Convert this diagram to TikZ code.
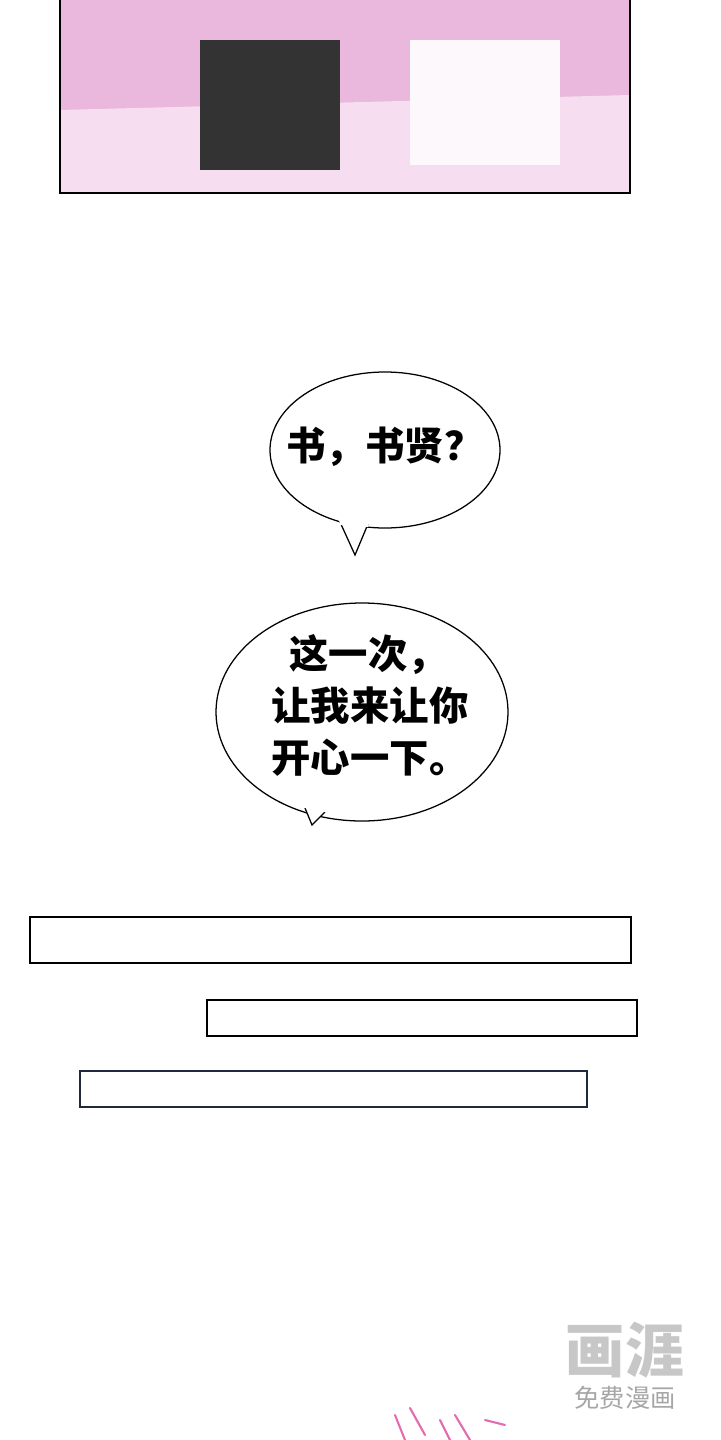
\documentclass[tikz,border=0pt]{standalone}
\usepackage{fontspec}
\newfontfamily\cjk{Noto Sans CJK SC}
\usetikzlibrary{shapes.geometric}
\definecolor{panelpink}{HTML}{E9B8DC}
\definecolor{floorpink}{HTML}{F6DDF0}
\definecolor{scribble}{HTML}{E56BB0}
\definecolor{boxblue}{HTML}{1E2A3C}
\begin{document}
\begin{tikzpicture}
    [x=0.05cm, y=-0.05cm,
     bubble/.style={ellipse, draw=black, line width=1.8pt, fill=white, inner sep=0pt},
     say/.style={font=\cjk\bfseries\fontsize{56}{74}\selectfont, align=left},
     caption box/.style={draw=black, line width=1.8pt, fill=white},
     >=stealth
    ]
\useasboundingbox (0,0) rectangle (720,1440);
% top panel
\fill[panelpink] (60,0) rectangle (630,193);
\fill[floorpink] (60,110) -- (630,95) -- (630,193) -- (60,193) -- cycle;
\fill[black!80] (200,40) rectangle (340,170);
\fill[white!90!panelpink] (410,40) rectangle (560,165);
\draw[line width=4pt] (60,-5) -- (60,193) -- (630,193) -- (630,-5);

% bubbles
\node[bubble, minimum width=230*0.05cm, minimum height=156*0.05cm] (b1) at (385,450) {};
\draw[line width=1.8pt, fill=white] (340,522) -- (355,555) -- (368,524);
\fill[white] (338,515) -- (370,517) -- (368,527) -- (340,525) -- cycle;
\node[say] (t1) at (385,447) {书，书贤？};

\node[bubble, minimum width=292*0.05cm, minimum height=218*0.05cm] (b2) at (362,712) {};
\draw[line width=1.8pt, fill=white] (305,808) -- (312,825) -- (325,812);
\fill[white] (303,800) -- (328,803) -- (325,812) -- (305,808) -- cycle;
\node[say] (t2) at (370,705) {\ \ 这一次，\\ 让我来让你\\ 开心一下。};

% empty caption boxes
\draw[caption box] (30,917) rectangle (631,963);
\draw[caption box] (207,1000) rectangle (637,1036);
\draw[caption box, draw=boxblue] (80,1071) rectangle (587,1107);

% watermark
\node[font=\cjk\bfseries\fontsize{84}{84}\selectfont, text=black!22] (wm) at (625,1350) {画涯};
\node[font=\cjk\fontsize{36}{36}\selectfont, text=black!35] (wm2) at (625,1398) {免费漫画};

% pink scribble at the bottom
\draw[scribble, line width=3pt, line cap=round] (395,1415) -- (405,1440);
\draw[scribble, line width=3pt, line cap=round] (410,1408) -- (425,1435);
\draw[scribble, line width=3pt, line cap=round] (440,1420) -- (450,1440) (455,1415) -- (470,1440) (485,1420) -- (505,1425);
\end{tikzpicture}
\end{document}
